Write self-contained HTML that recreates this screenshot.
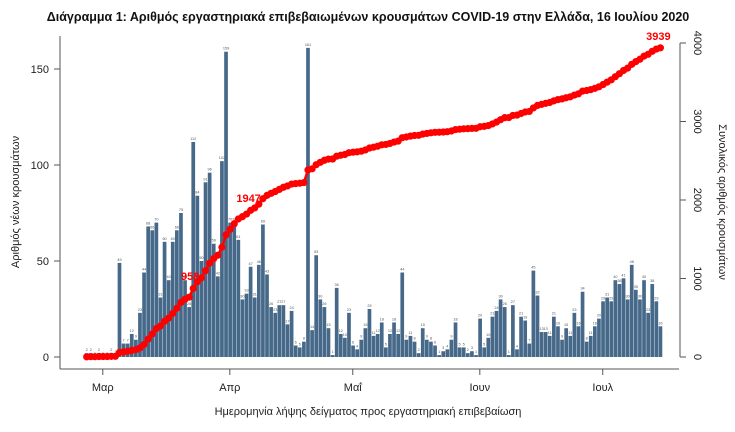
<!DOCTYPE html>
<html><head><meta charset="utf-8"><style>
body{margin:0;background:#fff;width:735px;height:427px;overflow:hidden}
svg text{font-family:"Liberation Sans","DejaVu Sans",sans-serif}
</style></head><body>
<svg id="chart" width="735" height="427">
<text x="368" y="21" text-anchor="middle" font-size="12.5" font-weight="bold" fill="#111">Διάγραμμα 1: Αριθμός εργαστηριακά επιβεβαιωμένων κρουσμάτων COVID-19 στην Ελλάδα, 16 Ιουλίου 2020</text>
<g id="bars"></g>
<g id="line"></g>
<g id="axes"></g>
<text x="368" y="415" text-anchor="middle" font-size="11" fill="#222">Ημερομηνία λήψης δείγματος προς εργαστηριακή επιβεβαίωση</text>
<text transform="translate(19,202) rotate(-90)" text-anchor="middle" font-size="11" fill="#222">Αριθμός νέων κρουσμάτων</text>
<text transform="translate(719,202) rotate(90)" text-anchor="middle" font-size="11" fill="#222">Συνολικός αριθμός κρουσμάτων</text>
</svg>
<script>
const dailyCases = [2,2,0,2,0,0,2,1,49,
7,7,12,9,23,44,68,66,70,31,60,40,60,66,75,40,26,112,84,50,91,96,59,42,102,159,
70,70,61,30,33,47,31,48,69,43,26,23,27,27,17,24,6,5,8,
161,14,53,30,26,15,1,36,
12,10,23,6,4,9,15,25,11,12,18,5,12,18,12,44,
9,11,8,2,15,9,8,6,1,3,4,9,18,5,5,2,3,1,20,5,10,21,24,30,
26,1,27,4,21,19,7,45,32,13,13,11,21,16,9,15,11,23,16,34,8,11,16,20,29,31,29,40,38,41,30,48,35,30,40,23,38,29,16];
const leftTicks = [0,50,100,150];
const rightTicks = [0,1000,2000,3000,4000];
const monthLabels = ["Μαρ","Απρ","Μαΐ","Ιουν","Ιουλ"];
const monthDayIndex = [4,35,65,96,126];
const cumLabelIdx = [27,42];

const NS="http://www.w3.org/2000/svg";
function mk(tag,attrs,parent){const e=document.createElementNS(NS,tag);for(const k in attrs)e.setAttribute(k,attrs[k]);parent.appendChild(e);return e;}
const x0=86.7, dx=4.098;
const xS=i=>x0+i*dx;
const yL=v=>357-v*1.92;
const yR=v=>357-v*0.0785;
const bars=document.getElementById('bars'), line=document.getElementById('line'), axes=document.getElementById('axes');

dailyCases.forEach((v,i)=>{
  const r=mk('rect',{x:xS(i)-1.85,y:yL(v),width:3.7,height:Math.max(0,357-yL(v)),fill:'#46698a'},bars);
  
  
  const t=mk('text',{x:xS(i),y:yL(v)-2,'text-anchor':'middle','font-size':'3.8',fill:'#555'},bars);
  t.textContent=v;
  
  
});

let cum=[],s=0;dailyCases.forEach(v=>{s+=v;cum.push(s);});
const pl=mk('polyline',{points:cum.map((c,i)=>xS(i)+','+yR(c)).join(' '),fill:'none',stroke:'#ff0000','stroke-width':2.5},line);


cum.forEach((c,i)=>{
  const p=mk('circle',{cx:xS(i),cy:yR(c),r:3.6,fill:'#ff0000'},line);
  
  
});
cumLabelIdx.forEach(i=>{
  const t=mk('text',{x:xS(i)+2,y:yR(cum[i])-2,'text-anchor':'end','font-size':'11','font-weight':'bold',fill:'#ff0000'},line);
  t.textContent=cum[i];
  
  
});
const last=cum.length-1;
const tl=mk('text',{x:xS(last)-2,y:yR(cum[last])-8,'text-anchor':'middle','font-size':'11','font-weight':'bold',fill:'#ff0000'},line);
tl.textContent=cum[last];



const st={stroke:'#555','stroke-width':1,fill:'none'};
let a=mk('path',Object.assign({d:'M60,36V369'},st),axes);


a=mk('path',Object.assign({d:'M60,369H679'},st),axes);


a=mk('path',Object.assign({d:'M680,'+yR(0)+'V'+yR(4000)},st),axes);


leftTicks.forEach(v=>{
  const tk=mk('path',Object.assign({d:'M54,'+yL(v)+'H60'},st),axes);
  
  
  const t=mk('text',{x:49,y:yL(v)+4,'text-anchor':'end','font-size':'11',fill:'#222'},axes);
  t.textContent=v;
  
  
});
rightTicks.forEach(v=>{
  const tk=mk('path',Object.assign({d:'M680,'+yR(v)+'H686'},st),axes);
  
  
  const t=mk('text',{transform:'translate(694,'+yR(v)+') rotate(90)','text-anchor':'middle','font-size':'11',fill:'#222'},axes);
  t.textContent=v;
  
  
});
monthLabels.forEach((m,k)=>{
  const x=xS(monthDayIndex[k])-0.3;
  const tk=mk('path',Object.assign({d:'M'+x+',369V375'},st),axes);
  
  
  const t=mk('text',{x:x,y:391,'text-anchor':'middle','font-size':'11',fill:'#222'},axes);
  t.textContent=m;
  
  
});
</script>
</body></html>
